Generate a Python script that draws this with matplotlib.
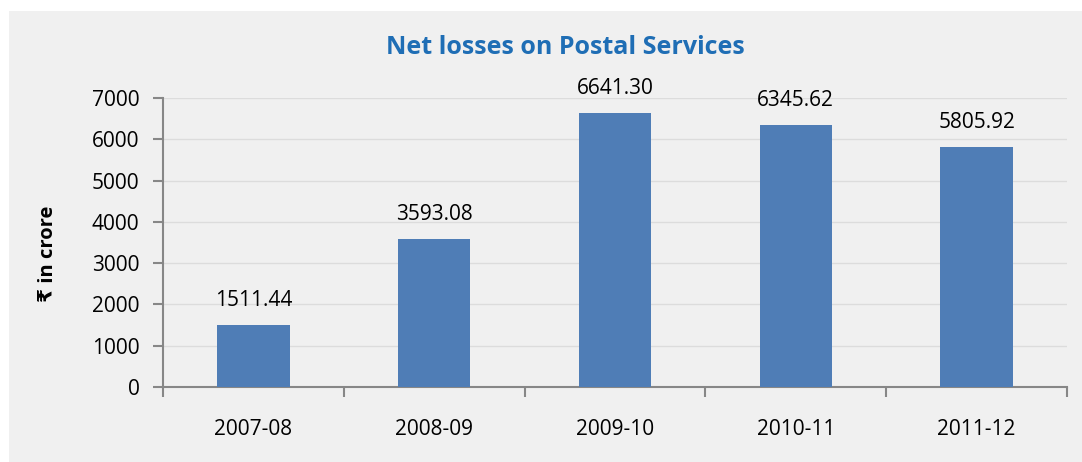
import matplotlib
matplotlib.use("Agg")
import matplotlib.pyplot as plt
from matplotlib.patches import Rectangle

years = ["2007-08", "2008-09", "2009-10", "2010-11", "2011-12"]
net_loss = [1511.44, 3593.08, 6641.30, 6345.62, 5805.92]
y_ticks = [0, 1000, 2000, 3000, 4000, 5000, 6000, 7000]

plt.rcParams["font.family"] = ["Open Sans", "DejaVu Sans"]

W, H = 1082, 462
fig = plt.figure(figsize=(W / 100, H / 100), dpi=100)
fig.patch.set_facecolor("white")

# light grey chart panel behind everything
fig.patches.append(Rectangle((9 / W, 0), 1 - 9 / W, 1 - 11 / H,
                             transform=fig.transFigure, facecolor="#F0F0F0",
                             edgecolor="none", zorder=-10))

left, right = 163 / W, 1067 / W
top, bottom = 1 - 98 / H, 1 - 387 / H
ax = fig.add_axes([left, bottom, right - left, top - bottom])
ax.set_facecolor("none")
ax.set_zorder(1)

x = range(len(years))
ax.bar(x, net_loss, width=0.4, color="#4F7DB6", zorder=3)

for xi, v in zip(x, net_loss):
    ax.annotate(f"{v:.2f}", (xi, v), xytext=(0, 10), textcoords="offset points",
                ha="center", va="bottom", fontsize=15, color="black")

ax.set_xlim(-0.5, len(years) - 0.5)
ax.set_ylim(0, 7000)
ax.set_yticks(y_ticks)
ax.set_yticklabels([str(t) for t in y_ticks], fontsize=15)
ax.yaxis.grid(True, color="#DCDCDC", linewidth=1, zorder=0)

ax.set_xticks(list(x))
ax.set_xticklabels(years, fontsize=15)
ax.tick_params(axis="x", length=0, pad=23)
ax.set_xticks([i - 0.5 for i in range(len(years) + 1)], minor=True)
ax.tick_params(axis="x", which="minor", length=7, color="#878787", width=1.5)
ax.tick_params(axis="y", length=7, color="#878787", width=1.5, pad=10)

for s in ["top", "right"]:
    ax.spines[s].set_visible(False)
for s in ["left", "bottom"]:
    ax.spines[s].set_color("#878787")
    ax.spines[s].set_linewidth(1.5)

fig.text(48 / W, 1 - 254 / H, "₹ in crore", rotation=90, ha="center", va="center",
         fontsize=14.5, fontweight="bold", color="black",
         family=["Open Sans", "DejaVu Sans"])

fig.text(565 / W, 1 - 47 / H, "Net losses on Postal Services", ha="center", va="center",
         fontsize=18, fontweight="bold", color="#1F6EB5")

fig.savefig("out.png", dpi=100, facecolor=fig.get_facecolor())
